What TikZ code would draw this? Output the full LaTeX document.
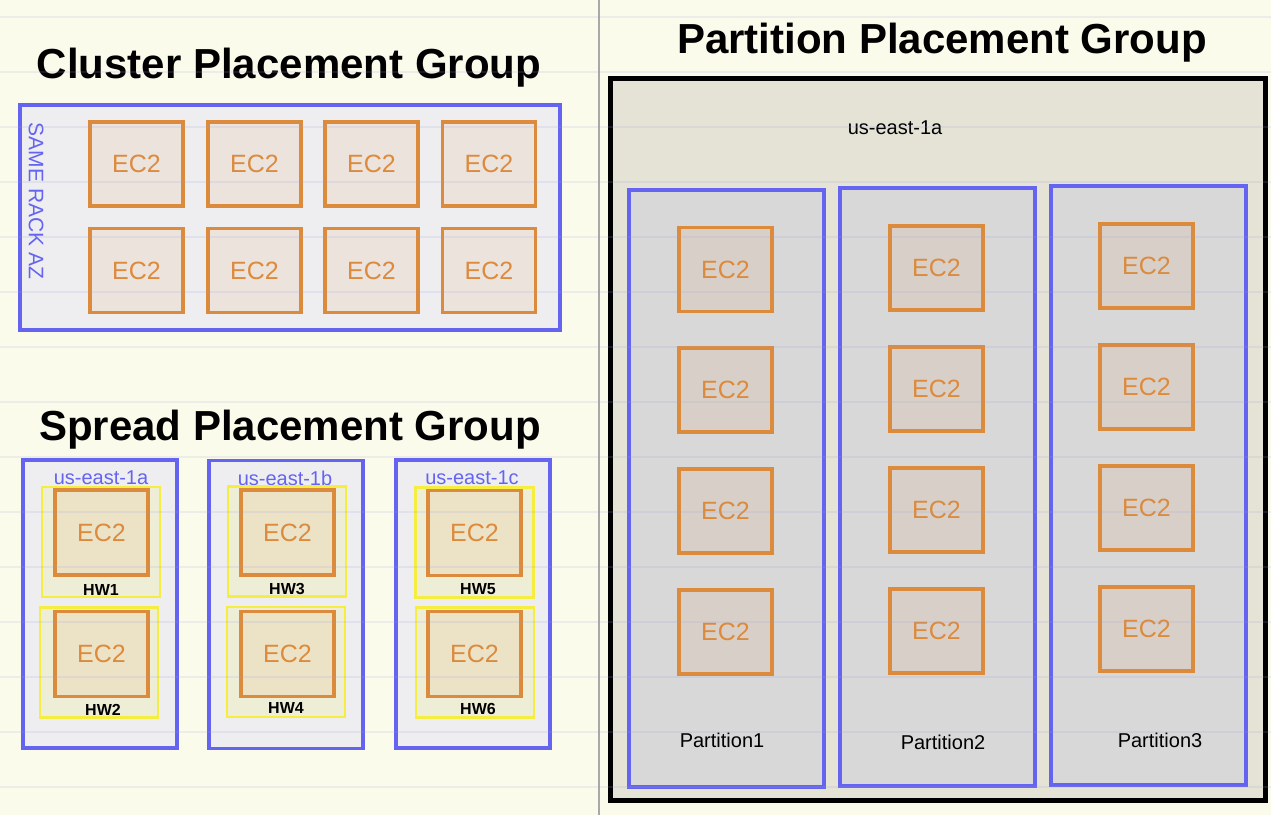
\documentclass[tikz,border=0pt]{standalone}
\usepackage{fontspec}
\setmainfont{Liberation Sans}
\definecolor{bg}{HTML}{FBFBEC}
\definecolor{rule}{HTML}{A0A0DC}
\definecolor{azblue}{HTML}{6464F0}
\definecolor{ec2o}{HTML}{DC8A3C}
\definecolor{hwy}{HTML}{F5EE40}
\definecolor{boxgray}{HTML}{EEEEF0}
\definecolor{partfill}{HTML}{E4E3D6}
\definecolor{colfill}{HTML}{D8D8D8}
\definecolor{divider}{HTML}{A8A8A8}
\tikzset{
  title/.style={font=\fontsize{42}{42}\selectfont\bfseries, text=black, inner sep=0},
  ec2/.style={draw=ec2o, line width=3.2pt, fill=ec2o, fill opacity=0.1, text opacity=1,
    minimum width=93pt, minimum height=84pt, inner sep=0, text=ec2o,
    font=\fontsize{25}{25}\selectfont},
  azbox/.style={draw=azblue, line width=3.2pt, fill=boxgray, inner sep=0},
  hwbox/.style={draw=hwy, line width=2.2pt, fill=hwy, fill opacity=0.14, inner sep=0,
    minimum width=118pt, minimum height=110pt},
  colbox/.style={draw=azblue, line width=3.2pt, fill=colfill, inner sep=0,
    minimum width=195pt},
  azlabel/.style={text=azblue, font=\fontsize{20}{20}\selectfont, inner sep=0},
  hwlabel/.style={text=black, font=\fontsize{16}{16}\selectfont\bfseries, inner sep=0},
  plabel/.style={text=black, font=\fontsize{20}{20}\selectfont, inner sep=0},
}
\begin{document}
\begin{tikzpicture}[x=1pt,y=-1pt]
\useasboundingbox (0,0) rectangle (1271,815);
\fill[bg] (0,0) rectangle (1271,815);
\draw[divider, line width=2.2pt] (599,0) -- (599,815);

% Cluster
\node[title] (ctitle) at (289,68) {Cluster Placement Group};
\node[azbox, minimum width=540pt, minimum height=225pt] (cbox) at (290,217.5) {};
\node[azlabel, rotate=-90, font=\fontsize{21}{21}\selectfont] (crack) at (36,201) {SAME RACK AZ};
\node[ec2] (c11) at (136.5,164) {EC2};
\node[ec2] (c12) at (254.5,164) {EC2};
\node[ec2] (c13) at (371.5,164) {EC2};
\node[ec2] (c14) at (489,164) {EC2};
\node[ec2] (c21) at (136.5,270.5) {EC2};
\node[ec2] (c22) at (254.5,270.5) {EC2};
\node[ec2] (c23) at (371.5,270.5) {EC2};
\node[ec2] (c24) at (489,270.5) {EC2};

% Spread
\node[title] (stitle) at (290,430) {Spread Placement Group};
\node[azbox, minimum width=154pt, minimum height=288pt] (az1) at (100,604) {};
\node[azbox, minimum width=154pt, minimum height=288pt] (az2) at (286,604.5) {};
\node[azbox, minimum width=154pt, minimum height=288pt] (az3) at (473,604) {};
\node[azlabel] (az1l) at (101,478) {us-east-1a};
\node[azlabel] (az2l) at (285,478) {us-east-1b};
\node[azlabel] (az3l) at (472,478) {us-east-1c};
\node[hwbox] (hw1) at (101,542) {};
\node[hwbox] (hw2) at (99,662.5) {};
\node[hwbox] (hw3) at (287,541.5) {};
\node[hwbox] (hw4) at (286,662) {};
\node[hwbox] (hw5) at (474.5,542.5) {};
\node[hwbox] (hw6) at (475,662.5) {};
\node[ec2, minimum height=85pt] (s1) at (101.5,532.5) {EC2};
\node[ec2, minimum height=85pt] (s2) at (101.5,654) {EC2};
\node[ec2, minimum height=85pt] (s3) at (287.5,532.5) {EC2};
\node[ec2, minimum height=85pt] (s4) at (287.5,654) {EC2};
\node[ec2, minimum height=85pt] (s5) at (474.5,533) {EC2};
\node[ec2, minimum height=85pt] (s6) at (474.5,654) {EC2};
\node[hwlabel] (hw1l) at (101,590) {HW1};
\node[hwlabel] (hw2l) at (103,710) {HW2};
\node[hwlabel] (hw3l) at (287,589) {HW3};
\node[hwlabel] (hw4l) at (286,708) {HW4};
\node[hwlabel] (hw5l) at (478,589) {HW5};
\node[hwlabel] (hw6l) at (478,709) {HW6};

% Partition
\node[title] (ptitle) at (942,43) {Partition Placement Group};
\node[draw=black, line width=5pt, fill=partfill, minimum width=655pt, minimum height=722pt, inner sep=0] (pbox) at (937.5,439) {};
\node[plabel] (paz) at (895,128) {us-east-1a};
\node[colbox, minimum height=597pt] (col1) at (726.5,488.5) {};
\node[colbox, minimum height=598pt] (col2) at (937.5,487) {};
\node[colbox, minimum height=599pt] (col3) at (1148.5,485.5) {};
\foreach \i/\y in {1/269.5,2/390,3/511,4/632} {\node[ec2] (p1\i) at (725.5,\y) {EC2};}
\foreach \i/\y in {1/268,2/389,3/510,4/631} {\node[ec2] (p2\i) at (936.5,\y) {EC2};}
\foreach \i/\y in {1/266,2/387,3/508,4/629} {\node[ec2] (p3\i) at (1146.5,\y) {EC2};}
\node[plabel] (pl1) at (722,740) {Partition1};
\node[plabel] (pl2) at (943,742) {Partition2};
\node[plabel] (pl3) at (1160,740) {Partition3};

% ruled paper lines
\foreach \y in {17,72,...,790} {\draw[rule, opacity=0.16, line width=1.5pt] (0,\y) -- (1271,\y);}
\end{tikzpicture}
\end{document}
